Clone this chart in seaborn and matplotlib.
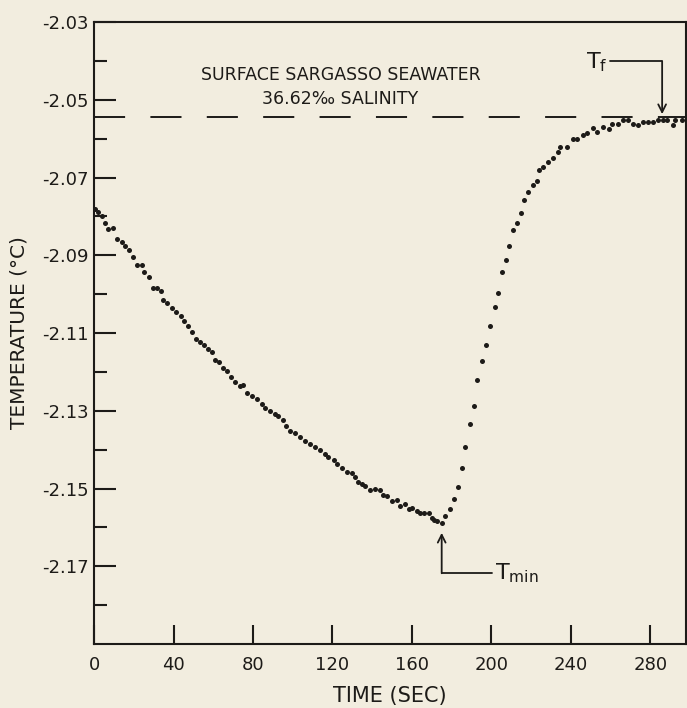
import numpy as np
import pandas as pd
import matplotlib
matplotlib.use("Agg")
import matplotlib.pyplot as plt
import seaborn as sns

# readings taken off the supercooling curve (time in s, temperature in °C)
time_s = [
    0.6, 1.8, 3.9, 5.5, 7.2, 9.4, 11.4, 13.9, 15.6, 17.8, 19.8, 21.5, 24.0, 24.9,
    27.4, 29.6, 31.6, 33.6, 34.9, 36.9, 39.1, 41.3, 43.5, 45.5, 47.5, 49.5, 51.5,
    53.5, 55.5, 57.5, 59.3, 61.0, 63.1, 65.1, 66.8, 68.8, 71.0, 73.6, 75.2, 76.9,
    79.4, 82.0, 84.5, 86.1, 88.7, 91.2, 92.8, 95.0, 96.5, 98.7, 101.0, 103.8,
    106.0, 108.8, 111.0, 113.9, 116.0, 118.0, 120.6, 122.3, 124.8, 127.3, 129.8,
    131.5, 133.1, 134.8, 136.5, 139.0, 141.6, 144.1, 145.7, 147.4, 150.0, 152.5,
    154.2, 156.7, 158.3, 160.0, 162.6, 164.2, 165.9, 168.4, 170.1, 170.9, 172.6,
    175.1, 176.8, 179.2, 181.4, 183.2, 185.2, 186.9, 189.1, 191.1, 192.8, 195.5,
    197.5, 199.5, 202.0, 203.5, 205.5, 207.5, 209.0, 211.0, 213.0, 215.0, 216.6,
    218.6, 221.0, 223.0, 224.0, 226.0, 228.7, 231.0, 233.7, 234.8, 238.0, 241.0,
    243.0, 246.0, 248.0, 251.0, 253.0, 256.0, 259.0, 261.0, 264.0, 266.5, 269.0,
    271.5, 274.0, 276.6, 279.0, 281.6, 284.0, 286.6, 288.7, 291.7, 292.7, 296.0,
]
temp_c = [
    -2.0782, -2.0790, -2.0799, -2.0816, -2.0832, -2.0831, -2.0858, -2.0866,
    -2.0875, -2.0886, -2.0904, -2.0925, -2.0925, -2.0944, -2.0955, -2.0984,
    -2.0984, -2.0993, -2.1014, -2.1022, -2.1035, -2.1045, -2.1055, -2.1068,
    -2.1082, -2.1098, -2.1115, -2.1124, -2.1131, -2.1140, -2.1149, -2.1170,
    -2.1174, -2.1191, -2.1199, -2.1212, -2.1225, -2.1237, -2.1235, -2.1254,
    -2.1263, -2.1271, -2.1282, -2.1292, -2.1301, -2.1309, -2.1313, -2.1325,
    -2.1338, -2.1351, -2.1358, -2.1368, -2.1377, -2.1386, -2.1393, -2.1401,
    -2.1410, -2.1418, -2.1427, -2.1436, -2.1448, -2.1457, -2.1461, -2.1470,
    -2.1482, -2.1488, -2.1493, -2.1503, -2.1502, -2.1503, -2.1516, -2.1520,
    -2.1533, -2.1529, -2.1546, -2.1541, -2.1554, -2.1550, -2.1558, -2.1562,
    -2.1562, -2.1562, -2.1575, -2.1581, -2.1584, -2.1588, -2.1571, -2.1554,
    -2.1527, -2.1495, -2.1446, -2.1394, -2.1335, -2.1288, -2.1221, -2.1171,
    -2.1130, -2.1082, -2.1032, -2.0996, -2.0943, -2.0913, -2.0877, -2.0834,
    -2.0816, -2.0791, -2.0758, -2.0738, -2.0718, -2.0708, -2.0680, -2.0672,
    -2.0660, -2.0649, -2.0634, -2.0622, -2.0622, -2.0601, -2.0601, -2.0591,
    -2.0586, -2.0573, -2.0584, -2.0571, -2.0576, -2.0563, -2.0563, -2.0553,
    -2.0551, -2.0563, -2.0566, -2.0556, -2.0556, -2.0556, -2.0553, -2.0553,
    -2.0553, -2.0566, -2.0551, -2.0553,
]
freezing_point = -2.0545
x_ticks = [0, 40, 80, 120, 160, 200, 240, 280]
y_ticks = [-2.03, -2.05, -2.07, -2.09, -2.11, -2.13, -2.15, -2.17]
y_tick_labels = ["-2.03", "-2.05", "-2.07", "-2.09", "-2.11", "-2.13", "-2.15", "-2.17"]
y_minor_ticks = [-2.04, -2.06, -2.08, -2.10, -2.12, -2.14, -2.16, -2.18]

paper = "#f2eddf"
ink = "#1d1b18"

sns.set_theme(style="ticks")
plt.rcParams["font.family"] = ["DejaVu Sans"]

df = pd.DataFrame({"time": time_s, "temp": temp_c})

fig = plt.figure(figsize=(6.87, 7.08), dpi=100, facecolor=paper)
ax = fig.add_axes([0.137, 0.0904, 0.8615, 0.8785])
ax.set_facecolor(paper)

sns.scatterplot(data=df, x="time", y="temp", ax=ax, color=ink, s=13,
                linewidth=0, legend=False, zorder=3)

# freezing point, long dashes as in the original drawing
ax.axhline(freezing_point, color=ink, linewidth=1.4, dashes=(16, 13), zorder=2)

ax.set_xlim(0, 298)
ax.set_ylim(-2.19, -2.03)
ax.set_xticks(x_ticks)
ax.set_yticks(y_ticks)
ax.set_yticklabels(y_tick_labels)
ax.set_yticks(y_minor_ticks, minor=True)

for side in ["left", "right", "top", "bottom"]:
    ax.spines[side].set_visible(True)
    ax.spines[side].set_color(ink)
    ax.spines[side].set_linewidth(1.5)

ax.tick_params(axis="y", which="major", direction="in", length=16, width=1.5,
               color=ink, labelcolor=ink, labelsize=13, pad=4)
ax.tick_params(axis="y", which="minor", direction="in", length=9.5, width=1.5,
               color=ink)
ax.tick_params(axis="x", which="major", direction="in", length=14, width=1.5,
               color=ink, labelcolor=ink, labelsize=13, pad=9)

ax.set_xlabel("TIME (SEC)", fontsize=15, color=ink, labelpad=8)
ax.set_ylabel("TEMPERATURE (°C)", fontsize=14.5, color=ink, labelpad=10)

ax.text(124, -2.0437, "SURFACE SARGASSO SEAWATER", ha="center", va="center",
        fontsize=12.5, color=ink)
ax.text(124, -2.0499, "36.62‰ SALINITY", ha="center", va="center",
        fontsize=12.5, color=ink)

# T_f pointer
ax.plot([260, 286], [-2.0401, -2.0401], color=ink, linewidth=1.3)
ax.annotate("", xy=(286, -2.0537), xytext=(286, -2.0401),
            arrowprops=dict(arrowstyle="->", color=ink, lw=1.3,
                            shrinkA=0, shrinkB=0, mutation_scale=14))
ax.text(258.5, -2.0419, r"T$_\mathregular{f}$", ha="right", va="baseline",
        fontsize=16, color=ink)

# T_min pointer
ax.plot([175, 200.5], [-2.1718, -2.1718], color=ink, linewidth=1.3)
ax.annotate("", xy=(175, -2.1614), xytext=(175, -2.1718),
            arrowprops=dict(arrowstyle="->", color=ink, lw=1.3,
                            shrinkA=0, shrinkB=0, mutation_scale=14))
ax.text(202, -2.1733, r"T$_\mathregular{min}$", ha="left", va="baseline",
        fontsize=16, color=ink)

fig.savefig("out.png", dpi=100, facecolor=paper)
plt.close()
